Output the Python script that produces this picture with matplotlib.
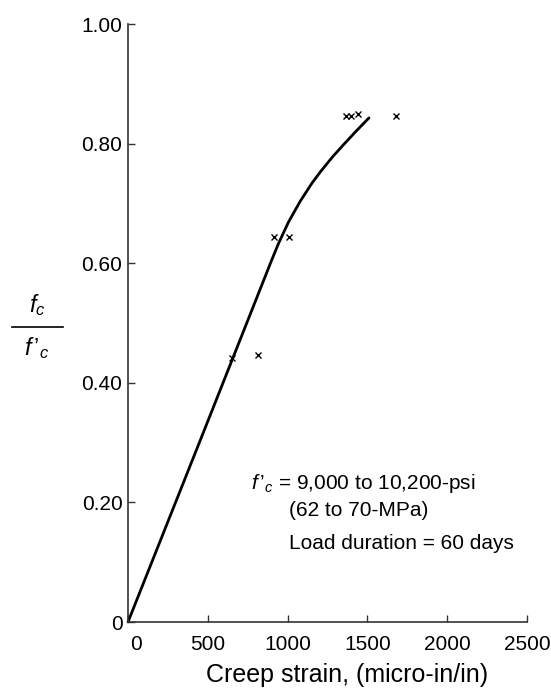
import matplotlib
matplotlib.use("Agg")
import matplotlib.pyplot as plt
import matplotlib.transforms as mtransforms
from matplotlib.lines import Line2D

plt.rcParams['font.family'] = ['Liberation Sans', 'DejaVu Sans']
plt.rcParams['mathtext.fontset'] = 'custom'
plt.rcParams['mathtext.rm'] = 'Liberation Sans'
plt.rcParams['mathtext.it'] = 'Liberation Sans:italic'

# Fitted curve
curve_x = [0, 450, 900, 943, 1006, 1080, 1153, 1206, 1279, 1353, 1430, 1510]
curve_y = [0, 0.302, 0.605, 0.633, 0.669, 0.704, 0.734, 0.753, 0.777, 0.799, 0.821, 0.843]

# Test points (x marks)
pts_x = [651, 815, 914, 1009, 1368, 1400, 1438, 1677]
pts_y = [0.441, 0.446, 0.643, 0.643, 0.846, 0.846, 0.850, 0.846]

xticks = [0, 500, 1000, 1500, 2000, 2500]
xticklabels = ["0", "500", "1000", "1500", "2000", "2500"]
yticks = [0, 0.2, 0.4, 0.6, 0.8, 1.0]
yticklabels = ["0", "0.20", "0.40", "0.60", "0.80", "1.00"]

W, H = 551, 693
fig = plt.figure(figsize=(W / 100, H / 100), dpi=100)
ax = fig.add_axes([128 / W, 1 - 622 / H, (527 - 128) / W, (622 - 24) / H])

ax.plot(curve_x, curve_y, color='black', lw=2.0, solid_capstyle='round',
        solid_joinstyle='round', clip_on=False)
ax.plot(pts_x, pts_y, linestyle='none', marker='x', color='black', markersize=4.5,
        markeredgewidth=1.0, clip_on=False)

ax.set_xlim(0, 2500)
ax.set_ylim(0, 1.0)
ax.set_xticks(xticks)
ax.set_xticklabels(xticklabels)
ax.set_yticks(yticks)
ax.set_yticklabels(yticklabels)

for s in ['top', 'right']:
    ax.spines[s].set_visible(False)
for s in ['left', 'bottom']:
    ax.spines[s].set_color('#333333')
    ax.spines[s].set_linewidth(1.2)

ax.tick_params(axis='both', direction='in', length=5, width=1.0, color='#333333',
               labelsize=15, labelcolor='black')
ax.tick_params(axis='x', pad=9)
ax.tick_params(axis='y', pad=4)

# shift the "0" x tick label slightly right as in the reference
lbl0 = ax.get_xticklabels()[0]
lbl0.set_transform(lbl0.get_transform() + mtransforms.ScaledTranslation(8 / 100, 0, fig.dpi_scale_trans))

# x axis label
fig.text(347 / W, 1 - 675 / H, "Creep strain, (micro-in/in)", ha='center', va='center', fontsize=18)

# y axis label as a fraction
fig.text(37 / W, 1 - 305 / H, r"$f_c$", ha='center', va='center', fontsize=17)
fig.add_artist(Line2D([12 / W, 63 / W], [1 - 327 / H, 1 - 327 / H], color='black', lw=1.2))
fig.text(37 / W, 1 - 348 / H, "$f\\,\u2019_c$", ha='center', va='center', fontsize=17)

# annotation
ax.text(772, 0.232, "$f\\,\u2019_c$ = 9,000 to 10,200-psi", ha='left', va='center', fontsize=15)
ax.text(1011, 0.187, "(62 to 70-MPa)", ha='left', va='center', fontsize=15)
ax.text(1011, 0.132, "Load duration = 60 days", ha='left', va='center', fontsize=15)

fig.savefig("out.png", dpi=100)
